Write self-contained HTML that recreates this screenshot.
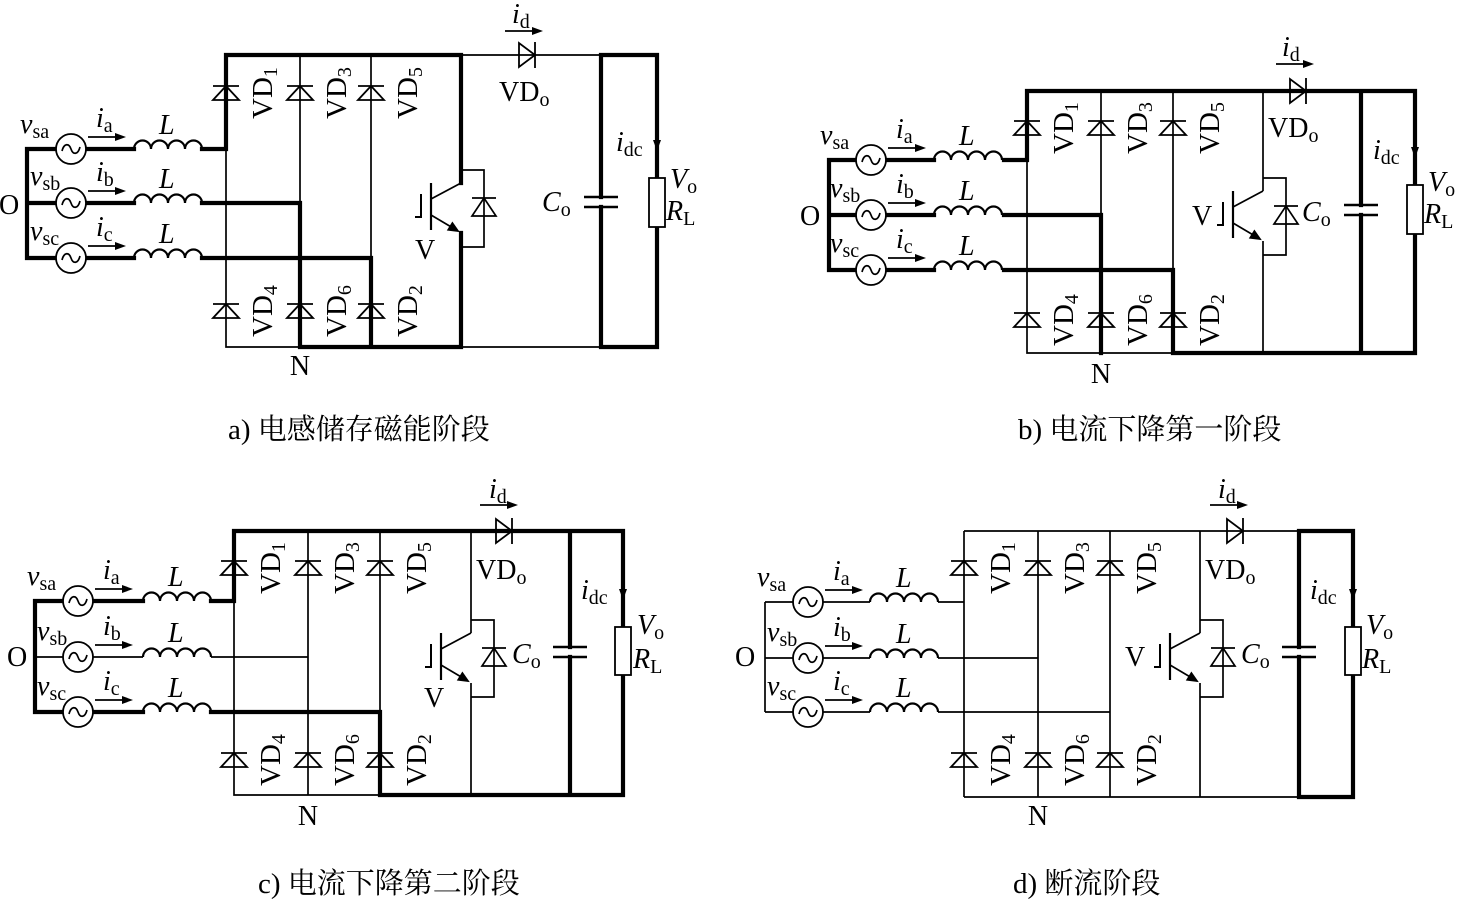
<!DOCTYPE html>
<html><head><meta charset="utf-8"><style>
html,body{margin:0;padding:0;background:#fff}
svg{display:block}
.t{stroke:#000;stroke-width:1.7;fill:none}
.b{stroke:#000;stroke-width:4.2;fill:none;stroke-linecap:square;stroke-linejoin:miter}
text{font-family:"Liberation Serif","Noto Serif CJK SC",serif;fill:#000}
.it{font-style:italic;font-size:28px}
.rm{font-size:28px}
.s{font-style:normal;font-size:20px}
.vd{font-size:29px}
.cap{font-size:29px}
</style></head><body>
<svg width="1460" height="899" viewBox="0 0 1460 899" xmlns="http://www.w3.org/2000/svg">
<defs>
<g id="d"><polygon points="-13,7 13,7 0,-7" fill="none" stroke="#000" stroke-width="1.8"/><line x1="-13" y1="-7" x2="13" y2="-7" stroke="#000" stroke-width="1.8"/></g>
<g id="dr"><polygon points="0,-12 0,12 16,0" fill="none" stroke="#000" stroke-width="1.8"/><line x1="16" y1="-13" x2="16" y2="13" stroke="#000" stroke-width="1.8"/></g>
<g id="src"><circle r="15" fill="#fff" stroke="#000" stroke-width="1.8"/><path d="M-9,2 C-7,-6 -2,-6 0,0 C2,6 7,6 9,-2" fill="none" stroke="#000" stroke-width="1.7"/></g>
<path id="ind" d="M0,0 a8.5,8.5 0 0 1 17,0 a8.5,8.5 0 0 1 17,0 a8.5,8.5 0 0 1 17,0 a8.5,8.5 0 0 1 17,0" fill="none" stroke="#000" stroke-width="2.2"/>
<g id="igbt" fill="none" stroke="#000" stroke-width="1.7">
<path d="M0,-37 H23 V40 H0"/>
<polygon points="11,9 35,9 23,-9"/><line x1="11" y1="-9" x2="35" y2="-9"/>
<path d="M0,-24 L-30,-8"/>
<path d="M-30,-24 V23" stroke-width="2.2"/>
<path d="M-40,-13 V10 H-46" stroke-width="2"/>
<path d="M-30,8 L-3,24"/>
<polygon points="-3,24 -12.8,22.8 -8.6,16" fill="#000"/>
</g>
<g id="ar"><line x1="0" y1="0" x2="34" y2="0" stroke="#000" stroke-width="1.8"/><polygon points="38,0 27,-4 27,4" fill="#000"/></g>
<g id="ard"><polygon points="-4,-11 4,-11 0,0" fill="#000"/></g>
</defs>

<!-- ============ PANEL A ============ -->
<path class="b" d="M27,149 V258 M27,149 H56 M86,149 H134 M202,149 H226 M27,203 H56 M86,203 H134 M202,203 H300 M27,258 H56 M86,258 H134 M202,258 H371 M226,149 V55 H461 M300,203 V347 M371,258 V347 M300,347 H461 M461,55 V183 M461,233 V347 M601,55 H657 V347 H601 M601,55 V197 M601,207 V347"/>
<path class="t" d="M226,149 V347 H300 M300,55 V203 M371,55 V258 M461,55 H601 M461,347 H601"/>
<use href="#ind" x="134" y="149"/><use href="#ind" x="134" y="203"/><use href="#ind" x="134" y="258"/>
<use href="#src" x="71" y="149"/><use href="#src" x="71" y="203"/><use href="#src" x="71" y="258"/>
<use href="#d" x="226" y="93"/><use href="#d" x="300" y="93"/><use href="#d" x="371" y="93"/>
<use href="#d" x="226" y="311"/><use href="#d" x="300" y="311"/><use href="#d" x="371" y="311"/>
<use href="#igbt" x="461" y="207"/>
<use href="#dr" x="519" y="55"/>
<line x1="584" y1="197" x2="618" y2="197" stroke="#000" stroke-width="2.5"/><line x1="584" y1="207" x2="618" y2="207" stroke="#000" stroke-width="2.5"/>
<rect x="649" y="178" width="16" height="49" fill="#fff" stroke="#000" stroke-width="1.8"/>
<use href="#ard" x="657" y="151"/>
<use href="#ar" x="505" y="31"/><use href="#ar" x="88" y="137"/><use href="#ar" x="88" y="191"/><use href="#ar" x="88" y="246"/>
<text class="it" x="512" y="23">i<tspan class="s" dy="5">d</tspan></text>
<text class="rm" x="499" y="101">VD<tspan class="s" dy="5">o</tspan></text>
<text class="it" x="616" y="151">i<tspan class="s" dy="5">dc</tspan></text>
<text class="it" x="670" y="188">V<tspan class="s" dy="5">o</tspan></text>
<text class="it" x="666" y="220">R<tspan class="s" dy="5">L</tspan></text>
<text class="it" x="542" y="211">C<tspan class="s" dy="5">o</tspan></text>
<text class="rm" x="415" y="259">V</text>
<text class="rm" x="-1" y="214">O</text>
<text class="rm" x="300" y="375" text-anchor="middle">N</text>
<text class="it" x="20" y="133">v<tspan class="s" dy="5">sa</tspan></text>
<text class="it" x="30" y="185">v<tspan class="s" dy="5">sb</tspan></text>
<text class="it" x="30" y="240">v<tspan class="s" dy="5">sc</tspan></text>
<text class="it" x="96" y="127">i<tspan class="s" dy="5">a</tspan></text>
<text class="it" x="96" y="181">i<tspan class="s" dy="5">b</tspan></text>
<text class="it" x="96" y="236">i<tspan class="s" dy="5">c</tspan></text>
<text class="it" x="159" y="134">L</text><text class="it" x="159" y="188">L</text><text class="it" x="159" y="243">L</text>
<text class="vd" text-anchor="middle" transform="translate(272,93) rotate(-90)">VD<tspan class="s" dy="5">1</tspan></text>
<text class="vd" text-anchor="middle" transform="translate(346,93) rotate(-90)">VD<tspan class="s" dy="5">3</tspan></text>
<text class="vd" text-anchor="middle" transform="translate(417,93) rotate(-90)">VD<tspan class="s" dy="5">5</tspan></text>
<text class="vd" text-anchor="middle" transform="translate(272,311) rotate(-90)">VD<tspan class="s" dy="5">4</tspan></text>
<text class="vd" text-anchor="middle" transform="translate(346,311) rotate(-90)">VD<tspan class="s" dy="5">6</tspan></text>
<text class="vd" text-anchor="middle" transform="translate(417,311) rotate(-90)">VD<tspan class="s" dy="5">2</tspan></text>
<text class="cap" x="228" y="439">a) 电感储存磁能阶段</text>

<!-- ============ PANEL B ============ -->
<path class="b" d="M829,160 V270 M829,160 H856 M886,160 H934 M1004,160 H1027 V91 H1415 V353 H1173 V270 H1004 M829,215 H856 M886,215 H934 M1004,215 H1101 V353 M829,270 H856 M886,270 H934 M1361,91 V205 M1361,215 V353"/>
<path class="t" d="M1027,160 V353 H1173 M1101,91 V215 M1173,91 V270 M1263,91 V191 M1263,241 V353"/>
<use href="#ind" x="934" y="160"/><use href="#ind" x="934" y="215"/><use href="#ind" x="934" y="270"/>
<use href="#src" x="871" y="160"/><use href="#src" x="871" y="215"/><use href="#src" x="871" y="270"/>
<use href="#d" x="1027" y="128"/><use href="#d" x="1101" y="128"/><use href="#d" x="1173" y="128"/>
<use href="#d" x="1027" y="320"/><use href="#d" x="1101" y="320"/><use href="#d" x="1173" y="320"/>
<use href="#igbt" x="1263" y="215"/>
<use href="#dr" x="1290" y="91"/>
<line x1="1344" y1="205" x2="1378" y2="205" stroke="#000" stroke-width="2.5"/><line x1="1344" y1="215" x2="1378" y2="215" stroke="#000" stroke-width="2.5"/>
<rect x="1407" y="185" width="16" height="49" fill="#fff" stroke="#000" stroke-width="1.8"/>
<use href="#ard" x="1415" y="158"/>
<use href="#ar" x="1276" y="64"/><use href="#ar" x="888" y="148"/><use href="#ar" x="888" y="203"/><use href="#ar" x="888" y="258"/>
<text class="it" x="1282" y="56">i<tspan class="s" dy="5">d</tspan></text>
<text class="rm" x="1268" y="137">VD<tspan class="s" dy="5">o</tspan></text>
<text class="it" x="1373" y="159">i<tspan class="s" dy="5">dc</tspan></text>
<text class="it" x="1428" y="191">V<tspan class="s" dy="5">o</tspan></text>
<text class="it" x="1424" y="223">R<tspan class="s" dy="5">L</tspan></text>
<text class="it" x="1302" y="221">C<tspan class="s" dy="5">o</tspan></text>
<text class="rm" x="1192" y="225">V</text>
<text class="rm" x="800" y="225">O</text>
<text class="rm" x="1101" y="383" text-anchor="middle">N</text>
<text class="it" x="820" y="144">v<tspan class="s" dy="5">sa</tspan></text>
<text class="it" x="830" y="197">v<tspan class="s" dy="5">sb</tspan></text>
<text class="it" x="830" y="252">v<tspan class="s" dy="5">sc</tspan></text>
<text class="it" x="896" y="138">i<tspan class="s" dy="5">a</tspan></text>
<text class="it" x="896" y="193">i<tspan class="s" dy="5">b</tspan></text>
<text class="it" x="896" y="248">i<tspan class="s" dy="5">c</tspan></text>
<text class="it" x="959" y="145">L</text><text class="it" x="959" y="200">L</text><text class="it" x="959" y="255">L</text>
<text class="vd" text-anchor="middle" transform="translate(1073,128) rotate(-90)">VD<tspan class="s" dy="5">1</tspan></text>
<text class="vd" text-anchor="middle" transform="translate(1147,128) rotate(-90)">VD<tspan class="s" dy="5">3</tspan></text>
<text class="vd" text-anchor="middle" transform="translate(1219,128) rotate(-90)">VD<tspan class="s" dy="5">5</tspan></text>
<text class="vd" text-anchor="middle" transform="translate(1073,320) rotate(-90)">VD<tspan class="s" dy="5">4</tspan></text>
<text class="vd" text-anchor="middle" transform="translate(1147,320) rotate(-90)">VD<tspan class="s" dy="5">6</tspan></text>
<text class="vd" text-anchor="middle" transform="translate(1219,320) rotate(-90)">VD<tspan class="s" dy="5">2</tspan></text>
<text class="cap" x="1018" y="439">b) 电流下降第一阶段</text>

<!-- ============ PANEL C ============ -->
<path class="b" d="M35,601 V712 M35,601 H63 M93,601 H143 M211,601 H234 V531 H623 V795 H380 V712 H211 M35,712 H63 M93,712 H143 M570,531 V647 M570,657 V795"/>
<path class="t" d="M35,657 H63 M93,657 H143 M211,657 H308 M234,601 V795 H380 M308,531 V795 M380,531 V712 M471,531 V633 M471,683 V795"/>
<use href="#ind" x="143" y="601"/><use href="#ind" x="143" y="657"/><use href="#ind" x="143" y="712"/>
<use href="#src" x="78" y="601"/><use href="#src" x="78" y="657"/><use href="#src" x="78" y="712"/>
<use href="#d" x="234" y="568"/><use href="#d" x="308" y="568"/><use href="#d" x="380" y="568"/>
<use href="#d" x="234" y="760"/><use href="#d" x="308" y="760"/><use href="#d" x="380" y="760"/>
<use href="#igbt" x="471" y="657"/>
<use href="#dr" x="496" y="531"/>
<line x1="553" y1="647" x2="587" y2="647" stroke="#000" stroke-width="2.5"/><line x1="553" y1="657" x2="587" y2="657" stroke="#000" stroke-width="2.5"/>
<rect x="615" y="627" width="16" height="48" fill="#fff" stroke="#000" stroke-width="1.8"/>
<use href="#ard" x="623" y="600"/>
<use href="#ar" x="480" y="505"/><use href="#ar" x="95" y="589"/><use href="#ar" x="95" y="645"/><use href="#ar" x="95" y="700"/>
<text class="it" x="489" y="498">i<tspan class="s" dy="5">d</tspan></text>
<text class="rm" x="476" y="579">VD<tspan class="s" dy="5">o</tspan></text>
<text class="it" x="581" y="599">i<tspan class="s" dy="5">dc</tspan></text>
<text class="it" x="637" y="634">V<tspan class="s" dy="5">o</tspan></text>
<text class="it" x="633" y="668">R<tspan class="s" dy="5">L</tspan></text>
<text class="it" x="512" y="663">C<tspan class="s" dy="5">o</tspan></text>
<text class="rm" x="424" y="707">V</text>
<text class="rm" x="7" y="666">O</text>
<text class="rm" x="308" y="825" text-anchor="middle">N</text>
<text class="it" x="27" y="585">v<tspan class="s" dy="5">sa</tspan></text>
<text class="it" x="37" y="640">v<tspan class="s" dy="5">sb</tspan></text>
<text class="it" x="37" y="695">v<tspan class="s" dy="5">sc</tspan></text>
<text class="it" x="103" y="579">i<tspan class="s" dy="5">a</tspan></text>
<text class="it" x="103" y="635">i<tspan class="s" dy="5">b</tspan></text>
<text class="it" x="103" y="690">i<tspan class="s" dy="5">c</tspan></text>
<text class="it" x="168" y="586">L</text><text class="it" x="168" y="642">L</text><text class="it" x="168" y="697">L</text>
<text class="vd" text-anchor="middle" transform="translate(280,568) rotate(-90)">VD<tspan class="s" dy="5">1</tspan></text>
<text class="vd" text-anchor="middle" transform="translate(354,568) rotate(-90)">VD<tspan class="s" dy="5">3</tspan></text>
<text class="vd" text-anchor="middle" transform="translate(426,568) rotate(-90)">VD<tspan class="s" dy="5">5</tspan></text>
<text class="vd" text-anchor="middle" transform="translate(280,760) rotate(-90)">VD<tspan class="s" dy="5">4</tspan></text>
<text class="vd" text-anchor="middle" transform="translate(354,760) rotate(-90)">VD<tspan class="s" dy="5">6</tspan></text>
<text class="vd" text-anchor="middle" transform="translate(426,760) rotate(-90)">VD<tspan class="s" dy="5">2</tspan></text>
<text class="cap" x="258" y="893">c) 电流下降第二阶段</text>

<!-- ============ PANEL D ============ -->
<path class="t" d="M765,602 V712 M765,602 H793 M823,602 H870 M938,602 H964 M765,658 H793 M823,658 H870 M938,658 H1038 M765,712 H793 M823,712 H870 M938,712 H1110 M964,531 V797 M1038,531 V797 M1110,531 V797 M964,531 H1299 M964,797 H1299 M1200,531 V633 M1200,683 V797"/>
<path class="b" d="M1299,531 H1353 V797 H1299 M1299,531 V647 M1299,657 V797"/>
<use href="#ind" x="870" y="602"/><use href="#ind" x="870" y="658"/><use href="#ind" x="870" y="712"/>
<use href="#src" x="808" y="602"/><use href="#src" x="808" y="658"/><use href="#src" x="808" y="712"/>
<use href="#d" x="964" y="568"/><use href="#d" x="1038" y="568"/><use href="#d" x="1110" y="568"/>
<use href="#d" x="964" y="760"/><use href="#d" x="1038" y="760"/><use href="#d" x="1110" y="760"/>
<use href="#igbt" x="1200" y="657"/>
<use href="#dr" x="1227" y="531"/>
<line x1="1282" y1="647" x2="1316" y2="647" stroke="#000" stroke-width="2.5"/><line x1="1282" y1="657" x2="1316" y2="657" stroke="#000" stroke-width="2.5"/>
<rect x="1345" y="627" width="16" height="48" fill="#fff" stroke="#000" stroke-width="1.8"/>
<use href="#ard" x="1353" y="600"/>
<use href="#ar" x="1210" y="505"/><use href="#ar" x="825" y="590"/><use href="#ar" x="825" y="646"/><use href="#ar" x="825" y="700"/>
<text class="it" x="1218" y="498">i<tspan class="s" dy="5">d</tspan></text>
<text class="rm" x="1205" y="579">VD<tspan class="s" dy="5">o</tspan></text>
<text class="it" x="1310" y="599">i<tspan class="s" dy="5">dc</tspan></text>
<text class="it" x="1366" y="634">V<tspan class="s" dy="5">o</tspan></text>
<text class="it" x="1362" y="668">R<tspan class="s" dy="5">L</tspan></text>
<text class="it" x="1241" y="663">C<tspan class="s" dy="5">o</tspan></text>
<text class="rm" x="1125" y="666">V</text>
<text class="rm" x="735" y="666">O</text>
<text class="rm" x="1038" y="825" text-anchor="middle">N</text>
<text class="it" x="757" y="586">v<tspan class="s" dy="5">sa</tspan></text>
<text class="it" x="767" y="641">v<tspan class="s" dy="5">sb</tspan></text>
<text class="it" x="767" y="695">v<tspan class="s" dy="5">sc</tspan></text>
<text class="it" x="833" y="580">i<tspan class="s" dy="5">a</tspan></text>
<text class="it" x="833" y="636">i<tspan class="s" dy="5">b</tspan></text>
<text class="it" x="833" y="690">i<tspan class="s" dy="5">c</tspan></text>
<text class="it" x="896" y="587">L</text><text class="it" x="896" y="643">L</text><text class="it" x="896" y="697">L</text>
<text class="vd" text-anchor="middle" transform="translate(1010,568) rotate(-90)">VD<tspan class="s" dy="5">1</tspan></text>
<text class="vd" text-anchor="middle" transform="translate(1084,568) rotate(-90)">VD<tspan class="s" dy="5">3</tspan></text>
<text class="vd" text-anchor="middle" transform="translate(1156,568) rotate(-90)">VD<tspan class="s" dy="5">5</tspan></text>
<text class="vd" text-anchor="middle" transform="translate(1010,760) rotate(-90)">VD<tspan class="s" dy="5">4</tspan></text>
<text class="vd" text-anchor="middle" transform="translate(1084,760) rotate(-90)">VD<tspan class="s" dy="5">6</tspan></text>
<text class="vd" text-anchor="middle" transform="translate(1156,760) rotate(-90)">VD<tspan class="s" dy="5">2</tspan></text>
<text class="cap" x="1013" y="893">d) 断流阶段</text>
</svg>
</body></html>
